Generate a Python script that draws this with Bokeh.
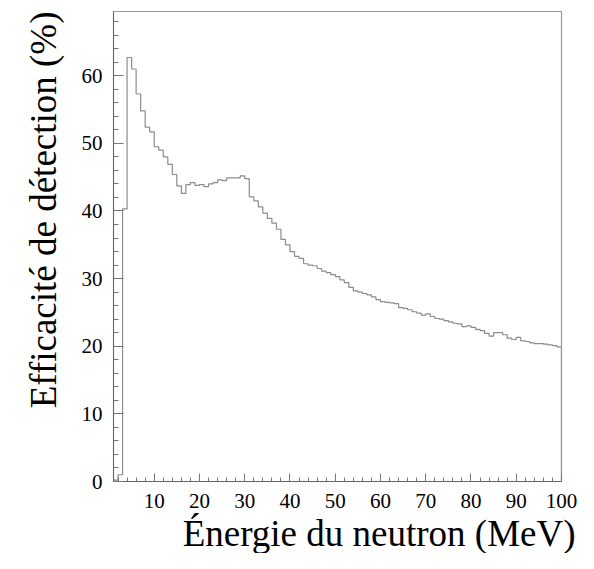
import numpy as np
from bokeh.plotting import figure
from bokeh.models import Range1d, FixedTicker, Title
from bokeh.embed import file_html
from bokeh.resources import INLINE

# Histogram: detection efficiency (%) per 1 MeV bin, low edges 1..99
bin_low_edges = list(range(1, 100))
efficiency = [
    0.2, 1.0, 40.3, 62.7, 61.0, 57.3, 54.8, 52.4, 51.7, 49.5,
    49.0, 48.0, 46.9, 45.4, 43.7, 42.6, 43.9, 44.2, 43.8, 43.9,
    43.6, 44.0, 44.2, 44.6, 44.5, 44.9, 44.9, 44.9, 45.2, 44.8,
    42.1, 41.5, 40.6, 39.7, 38.9, 38.2, 37.3, 35.8, 35.0, 34.0,
    33.3, 33.0, 32.2, 32.0, 31.9, 31.5, 31.1, 30.9, 30.6, 30.3,
    29.8, 29.4, 28.7, 28.2, 28.0, 27.8, 27.6, 27.3, 26.9, 26.6,
    26.5, 26.4, 26.3, 25.7, 25.6, 25.4, 25.1, 24.9, 24.6, 24.8,
    24.4, 24.1, 24.0, 23.8, 23.6, 23.4, 23.3, 22.9, 23.0, 22.8,
    22.5, 22.3, 21.9, 21.5, 22.0, 22.0, 21.7, 21.2, 21.0, 21.3,
    20.8, 20.7, 20.5, 20.4, 20.4, 20.3, 20.2, 20.1, 19.9,
]
bin_width = 1.0
x_ticks = [10, 20, 30, 40, 50, 60, 70, 80, 90, 100]
y_ticks = [0, 10, 20, 30, 40, 50, 60]
x_title = "Énergie du neutron (MeV)"
y_title = "Efficacité de détection (%)"

edges = np.array(bin_low_edges + [bin_low_edges[-1] + bin_width], dtype=float)
vals = np.array(efficiency)
xs = np.repeat(edges, 2)
ys = np.concatenate([[0.0], np.repeat(vals, 2), [0.0]])

SERIF = "Liberation Serif"

p = figure(width=578, height=553, output_backend="svg", toolbar_location=None,
           x_range=Range1d(1, 100), y_range=Range1d(0, 69.5),
           min_border_left=113, min_border_right=17, min_border_top=11,
           min_border_bottom=0)
p.grid.visible = False
p.outline_line_color = "#999999"
p.outline_line_width = 1.2

p.line(xs, ys, line_color="#8c8c8c", line_width=1.2)

for ax in (p.xaxis[0], p.yaxis[0]):
    ax.axis_line_color = "#666666"
    ax.major_tick_line_color = "#777777"
    ax.minor_tick_line_color = "#777777"
    ax.major_tick_out = 0
    ax.minor_tick_out = 0
    ax.major_label_text_font = SERIF
    ax.major_label_text_font_size = "21px"
    ax.major_label_text_color = "black"

p.xaxis.ticker = FixedTicker(ticks=x_ticks, minor_ticks=list(range(2, 101, 2)))
p.yaxis.ticker = FixedTicker(ticks=y_ticks, minor_ticks=list(range(0, 70, 2)))
p.xaxis.major_tick_in = 8
p.xaxis.minor_tick_in = 4
p.yaxis.major_tick_in = 10
p.yaxis.minor_tick_in = 5
p.xaxis.major_label_standoff = 12
p.yaxis.major_label_standoff = 11

xt = Title(text=x_title, align="right", text_font=SERIF, text_font_size="37px",
           text_font_style="normal", text_color="black", standoff=0, offset=-14)
yt = Title(text=y_title, align="right", text_font=SERIF,
           text_font_size="37px", text_font_style="normal", text_color="black",
           standoff=30)
p.add_layout(xt, "below")
p.add_layout(yt, "left")

open("out.html", "w").write(file_html(p, INLINE))
